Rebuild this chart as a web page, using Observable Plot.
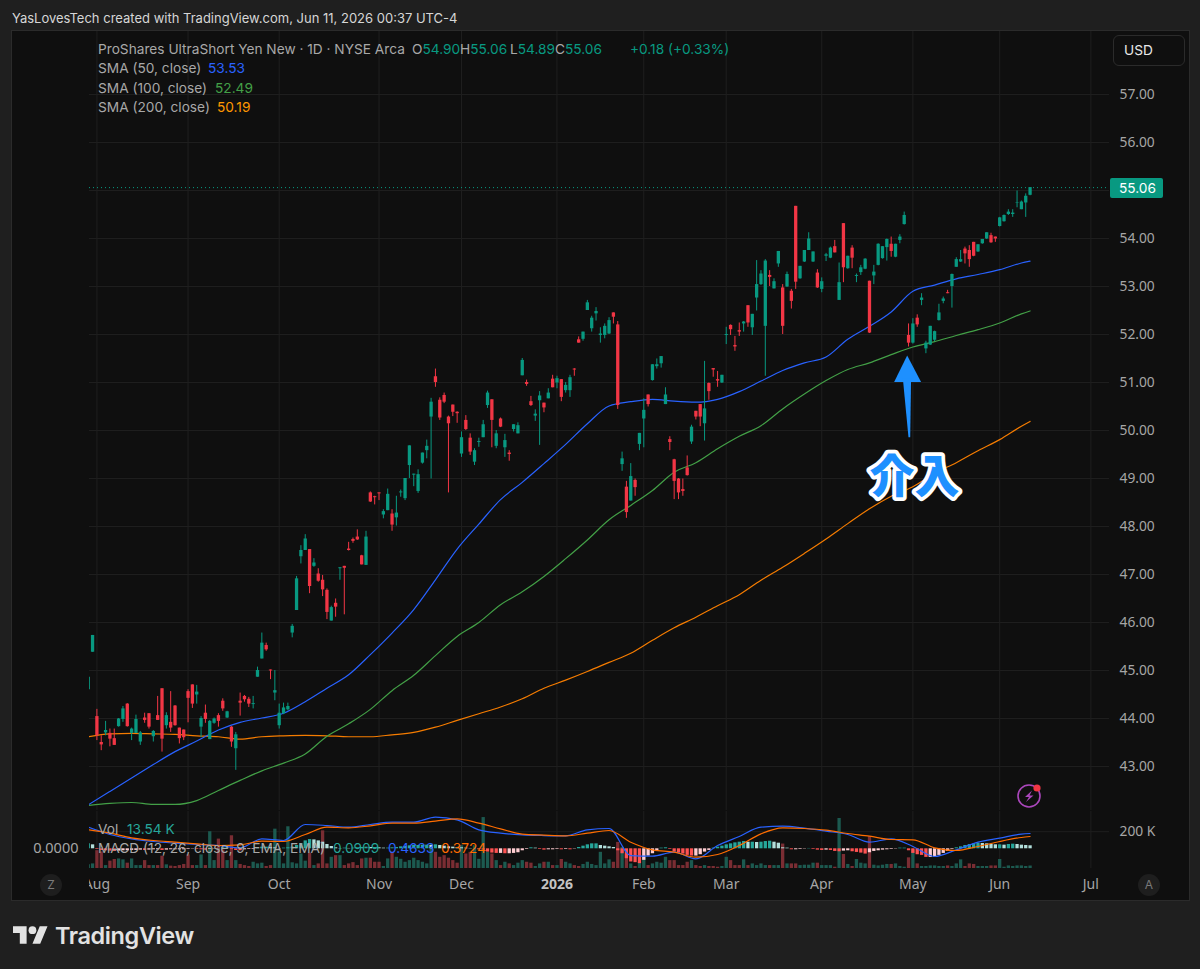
<!DOCTYPE html>
<html><head><meta charset="utf-8">
<script src="https://cdn.jsdelivr.net/npm/d3@7"></script>
<script src="https://cdn.jsdelivr.net/npm/@observablehq/plot@0.6"></script>
<style>
html,body{margin:0;padding:0;background:#1f1f1f;overflow:hidden}
#root{position:relative;width:1200px;height:969px;font-family:Inter,"Noto Sans",sans-serif;font-size:13.7px;overflow:hidden}
#panel{position:absolute;left:11px;top:30px;width:1177px;height:869px;background:#0f0f0f;border:1px solid #2b2b2b}
.t{position:absolute;white-space:nowrap;line-height:16px;color:#a8a8a8}
.layer{position:absolute;left:12px}
.layer svg{display:block;background:transparent!important;overflow:visible}
.b{position:absolute;border-radius:50%;width:22px;height:22px;background:#1e1e1e;color:#7a7a7a;text-align:center;line-height:22px;font-size:12px}
</style></head><body>
<div id="root"><div id="panel"></div></div>
<script>
// Bars run from firstBar (two sessions before Aug 1) to the last session
const firstBar = -2;
const open = [44.6,45.38,44.04,43.5,43.7,43.69,43.58,43.83,43.98,44.3,
43.69,43.69,43.51,44.01,44.1,43.62,44.06,44.62,43.85,43.92,
44.26,43.8,43.76,44.56,44.7,44.49,43.82,44.11,43.56,43.9,
44.06,44.36,44.01,43.82,43.37,44.36,44.46,44.4,44.29,44.86,
45.24,45.52,45.01,44.53,43.85,44.1,44.18,45.78,46.25,47.37,
47.5,47.52,47.17,47.01,46.88,46.67,46.03,46.4,47.12,47.17,
47.53,47.73,47.78,47.39,47.19,48.7,48.62,48.7,48.24,48.33,
48.26,48.18,48.7,48.58,49.27,49.07,48.73,49.32,49.58,50.28,
51.12,50.63,50.73,50.28,50.53,50.38,49.51,50.21,49.84,49.34,
49.75,49.85,50.52,50.64,49.67,50.24,49.64,49.53,50.02,49.93,
51.14,51.0,50.6,50.3,50.62,50.57,50.66,51.07,50.99,51.06,
50.83,50.83,51.28,51.89,51.9,52.5,52.12,52.43,51.98,51.98,
52.01,52.45,52.2,49.29,48.82,48.53,48.96,49.71,50.24,50.74,
51.04,51.33,51.39,50.54,49.81,49.39,48.99,48.77,49.22,49.76,
50.4,50.54,50.14,50.98,51.29,51.06,50.99,51.98,52.19,51.77,
52.08,52.22,52.6,52.14,52.76,53.04,52.17,53.23,52.95,53.47,
52.97,52.99,52.9,54.67,53.16,53.51,53.75,53.51,53.28,52.94,
53.63,53.59,53.83,52.71,54.31,53.37,53.8,53.21,53.29,53.36,
53.11,53.22,53.44,53.58,53.81,53.88,53.61,53.96,54.29,51.98,
51.82,52.34,52.71,51.7,51.78,51.88,52.29,52.69,52.87,53.0,
53.4,53.51,53.78,53.75,53.92,53.72,53.89,53.99,54.06,54.03,
54.25,54.35,54.5,54.5,54.74,54.6,54.74,54.9];
const high = [44.86,45.73,44.19,43.64,43.94,43.78,43.78,44.0,44.25,44.31,
43.8,44.07,43.73,44.11,44.1,43.75,44.46,44.62,44.12,44.56,
44.27,43.8,43.76,44.6,44.7,44.69,44.04,44.28,43.96,44.01,
44.1,44.41,44.15,43.83,43.71,44.53,44.48,44.44,44.46,45.07,
45.78,45.57,45.01,45.0,44.3,44.32,44.32,45.96,46.96,47.6,
47.83,47.52,47.33,47.12,46.98,46.7,46.34,46.49,47.14,47.17,
47.67,47.76,47.93,47.4,47.9,48.72,48.63,48.7,48.35,48.78,
48.35,48.63,48.76,49.0,49.68,49.09,49.18,49.53,49.8,50.67,
51.28,50.68,50.78,50.3,50.53,50.39,49.97,50.31,49.93,49.62,
49.84,50.21,50.82,50.64,50.0,50.26,49.92,49.58,50.12,50.16,
51.5,51.05,50.71,50.43,50.81,50.57,50.87,51.15,51.13,51.06,
51.0,51.15,51.29,51.95,52.05,52.71,52.38,52.56,52.14,52.22,
52.35,52.45,52.27,49.55,48.94,49.31,48.99,49.94,50.66,50.74,
51.37,51.49,51.54,50.89,49.87,49.4,49.0,48.99,49.47,50.11,
50.4,50.54,51.44,50.99,51.29,51.23,51.15,52.15,52.2,51.96,
52.24,52.27,52.6,52.42,53.54,53.33,53.56,53.33,53.16,53.73,
53.04,53.3,52.94,54.67,53.42,53.75,54.12,53.72,53.35,53.18,
53.69,53.82,53.96,53.49,54.31,53.63,53.85,53.26,53.44,53.58,
53.11,53.44,53.89,53.83,53.99,54.03,53.88,54.08,54.55,52.22,
52.33,52.41,52.85,51.86,52.17,52.07,52.63,52.78,52.92,53.26,
53.6,53.75,53.82,53.85,53.92,53.87,53.98,54.12,54.11,54.03,
54.44,54.49,54.6,54.6,54.99,54.78,54.93,55.06];
const low = [44.6,45.38,43.54,43.33,43.64,43.41,43.44,43.82,43.92,43.82,
43.54,43.69,43.44,43.9,43.78,43.51,43.96,43.3,43.78,43.71,
43.84,43.47,43.54,43.91,44.21,44.3,43.6,43.9,43.56,43.88,
43.82,44.15,44.0,43.4,42.92,44.05,44.34,44.23,44.2,44.86,
45.24,45.4,44.81,44.37,43.78,44.08,44.16,45.68,46.25,47.22,
47.5,46.6,47.15,46.84,46.54,46.06,46.03,46.11,46.88,46.16,
47.49,47.65,47.71,47.2,47.19,48.5,48.45,48.54,48.16,48.33,
47.9,48.01,48.61,48.54,49.0,48.83,48.69,49.3,49.41,48.99,
50.9,50.21,50.56,48.7,50.29,50.15,49.44,50.0,49.48,49.27,
49.65,49.85,50.46,49.64,49.62,50.06,49.44,49.36,49.97,49.93,
51.14,50.92,50.5,50.19,49.69,50.37,50.66,50.89,50.87,50.6,
50.78,50.69,51.13,51.82,51.86,52.5,52.05,52.28,51.82,51.91,
52.0,52.22,50.44,49.15,48.17,48.53,48.63,49.58,49.64,50.49,
51.03,51.28,51.3,50.54,49.58,48.56,48.56,48.63,49.05,49.71,
50.22,50.08,49.78,50.63,51.11,50.9,50.98,51.79,51.98,51.65,
51.96,52.05,52.15,51.98,52.49,53.02,51.13,53.0,52.95,53.4,
52.0,52.98,52.53,52.94,53.15,53.5,53.75,53.5,52.96,52.87,
53.52,53.58,53.7,52.71,53.08,53.36,53.37,53.08,53.23,53.35,
52.02,53.04,53.43,53.57,53.53,53.61,53.6,53.89,54.28,51.74,
51.8,52.15,52.6,51.6,51.77,51.85,52.28,52.64,52.85,52.55,
53.4,53.5,53.47,53.4,53.62,53.71,53.88,53.98,53.9,53.92,
54.24,54.34,54.48,54.44,54.64,54.6,54.44,54.89];
const close = [44.86,45.73,43.64,43.45,43.75,43.57,43.44,43.99,44.2,43.83,
43.78,43.98,43.7,43.96,43.82,43.73,43.96,43.57,44.06,43.8,
43.85,43.58,43.6,44.42,44.3,44.55,44.0,43.98,43.94,43.99,
43.94,44.2,44.14,43.51,43.66,44.32,44.39,44.3,44.31,45.0,
45.57,45.43,44.99,44.58,44.11,44.22,44.25,45.92,46.91,47.5,
47.74,46.75,47.24,46.86,46.68,46.21,46.31,46.32,47.14,47.13,
47.5,47.69,47.72,47.2,47.78,48.51,48.6,48.68,48.31,48.67,
48.03,48.28,48.72,49.0,49.68,49.09,49.08,49.53,49.67,50.59,
51.0,50.26,50.59,50.14,50.38,50.35,49.85,50.02,49.55,49.58,
49.77,50.12,50.78,50.21,49.93,50.07,49.79,49.5,50.12,50.1,
51.46,50.96,50.52,50.34,50.72,50.47,50.78,50.89,51.08,50.69,
50.94,51.1,51.26,51.82,52.05,52.66,52.34,52.48,52.01,52.17,
52.29,52.36,50.52,49.41,48.29,49.04,48.81,49.94,50.42,50.54,
51.37,51.37,51.54,50.74,49.75,48.94,48.7,48.73,49.06,50.07,
50.28,50.28,50.45,50.81,51.26,51.03,51.15,52.0,52.1,51.74,
52.05,52.26,52.24,52.42,53.04,53.26,53.53,53.19,53.1,53.73,
52.17,53.25,52.69,53.09,53.42,53.75,53.99,53.72,52.97,53.1,
53.66,53.8,53.7,53.08,53.39,53.63,53.59,53.23,53.39,53.57,
52.03,53.3,53.88,53.83,53.98,53.73,53.88,54.03,54.48,51.82,
52.22,52.2,52.76,51.82,52.17,52.06,52.45,52.74,52.85,53.25,
53.56,53.56,53.68,53.56,53.63,53.87,53.98,54.12,53.91,53.99,
54.43,54.48,54.55,54.53,54.75,54.76,54.88,55.06];
const volumeK = [20,25,97,90,16,40,49,52,47,29,
52,16,16,43,16,16,16,67,20,13,
11,16,22,74,16,16,74,16,200,43,
160,101,43,178,43,22,16,11,34,25,
29,11,16,214,88,25,227,31,25,79,
40,83,16,25,205,25,61,70,70,16,
25,32,16,52,56,56,34,34,11,52,
88,61,50,34,43,56,43,34,25,133,
88,61,70,56,43,29,124,79,88,124,
50,277,88,79,43,16,34,25,16,29,
43,34,29,11,25,34,34,16,16,49,
34,25,16,11,22,34,22,16,88,25,
47,34,142,115,79,25,11,34,70,16,
25,34,29,61,43,43,16,16,34,43,
16,11,16,11,11,7,11,61,43,16,
16,47,16,25,16,25,16,16,16,16,
133,25,25,25,16,18,18,29,29,16,
16,16,7,272,76,22,11,49,29,25,
173,18,14,18,22,22,25,11,7,58,
101,25,11,11,14,14,11,11,14,11,
25,47,11,25,22,11,11,11,14,14,
49,7,14,11,14,14,11,13.54];
const histogram = [.15,.12,-.02,-.05,-.06,-.07,-.08,-.07,-.06,-.06,
-.05,-.05,-.04,-.05,-.04,-.03,-.03,-.05,-.04,-.03,
-.03,-.03,-.03,-.02,-.01,-.02,-.03,-.04,-.02,-.01,
.01,.03,.03,-.02,-.05,-.06,-.03,-.02,-.02,.02,
.05,.05,.04,.03,.01,.02,.03,.05,.1,.16,
.24,.28,.27,.24,.2,.13,.07,.03,.01,.02,
.01,.02,.03,.04,.05,.04,.04,.03,.02,.02,
.03,.04,.06,.07,.09,.1,.1,.11,.11,.1,
.12,.1,.08,.06,.05,.04,.03,.02,.01,.01,
-.03,-.04,-.1,-.13,-.14,-.14,-.15,-.15,-.14,-.12,
-.06,-.02,.03,.02,-.02,-.04,-.03,-.03,-.02,-.03,
-.02,-.03,-.01,.04,.08,.12,.15,.15,.1,.08,
.06,.04,-.06,-.15,-.3,-.4,-.42,-.45,-.35,-.22,
-.15,-.08,.02,.03,-.02,-.1,-.13,-.16,-.2,-.22,
-.22,-.18,-.1,-.05,.02,.05,.08,.12,.15,.18,
.2,.22,.2,.2,.19,.2,.22,.23,.2,.17,
.03,.02,-.03,-.03,-.02,-.01,.01,-.02,-.04,-.05,
-.04,-.05,-.08,-.09,-.07,-.06,-.09,-.11,-.13,-.16,
-.12,-.08,-.06,-.04,-.03,-.02,-.01,.02,.02,-.06,
-.14,-.18,-.2,-.26,-.26,-.25,-.2,-.14,-.08,-.02,
.03,.06,.1,.13,.15,.17,.16,.15,.13,.12,
.12,.11,.13,.14,.13,.11,.1,.0909];

// Indicator lines, read every five sessions
const lineBars = [-2,3,8,13,18,23,28,33,38,43,48,53,58,63,68,73,78,83,88,93,98,103,108,113,118,123,128,133,138,143,148,153,158,163,168,173,178,183,188,193,198,203,208,213,215];
const sma50 = [42.2,42.48,42.76,43.04,43.31,43.53,43.76,43.92,44.01,44.11,44.35,44.63,44.91,45.33,45.78,46.27,46.89,47.53,48.05,48.56,48.92,49.31,49.71,50.14,50.51,50.6,50.65,50.61,50.59,50.65,50.81,51.03,51.25,51.41,51.53,51.9,52.17,52.47,52.9,53.03,53.16,53.25,53.35,53.49,53.53];
const sma100 = [42.19,42.23,42.25,42.21,42.21,42.29,42.5,42.71,42.91,43.07,43.26,43.63,43.89,44.19,44.58,44.9,45.31,45.71,46.0,46.37,46.64,46.96,47.33,47.72,48.14,48.44,48.75,49.13,49.33,49.62,49.88,50.1,50.45,50.76,51.04,51.27,51.41,51.58,51.74,51.85,51.98,52.1,52.24,52.43,52.49];
const sma200 = [43.62,43.68,43.69,43.68,43.67,43.64,43.62,43.57,43.62,43.64,43.65,43.64,43.62,43.62,43.66,43.71,43.82,43.96,44.1,44.24,44.41,44.63,44.8,44.98,45.17,45.36,45.63,45.89,46.11,46.35,46.58,46.88,47.15,47.44,47.74,48.06,48.37,48.63,48.83,49.11,49.33,49.58,49.81,50.09,50.19];
const macd = [.655,.433,.301,.221,.17,.13,.1,.029,.301,.251,.736,.705,.655,.736,.806,.806,.958,.877,.574,.473,.423,.402,.392,.574,.615,-.204,-.224,-.103,-.305,.099,.372,.655,.685,.626,.535,.434,.201,.302,.07,-.233,-.031,.201,.322,.444,.4633];
const signal = [.574,.473,.332,.251,.2,.15,.1,.12,.231,.221,.433,.655,.635,.695,.776,.776,.837,.907,.776,.604,.443,.413,.392,.473,.554,.2,-.032,-.103,-.254,-.173,.099,.453,.635,.615,.565,.464,.383,.282,.272,.03,-.051,.07,.221,.343,.3724];

const priceTicks = [43,44,45,46,47,48,49,50,51,52,53,54,55,56,57];
const monthBars = [0,21,42,65,84,106,126,145,167,188,208,229];
const monthLabels = ["Aug","Sep","Oct","Nov","Dec","2026","Feb","Mar","Apr","May","Jun","Jul"];
const volumeTicks = [200];
const lastPrice = 55.06;

// Annotation geometry expressed in chart units (bar number, price)
const arrowHead = [{p:51.55,a:186.8,b:186.8},{p:51.0,a:183.8,b:190.0}];
const arrowShaft = [{p:51.08,a:185.8,b:187.7},{p:49.85,a:187.1,b:187.5}];
const noteLabel = [{x:188.4,y:49.0,text:"介入"}];

const UP="#089981", DOWN="#F23645", GRID="#1f1f1f", AXIS="#a6a6a6", CURVE="monotone-x";
const bars = open.map((o,i)=>({i:i+firstBar,o,h:high[i],l:low[i],c:close[i],v:volumeK[i],m:histogram[i],pm:i?histogram[i-1]:histogram[i]}));
const lineRows = lineBars.map((x,i)=>({x,s50:sma50[i],s100:sma100[i],s200:sma200[i],macd:macd[i],sig:signal[i]}));
const xDomain=[-1.705,233.3];
const W=1177,ML=77,MR=80;
const root=document.getElementById("root");
function place(svg,top,z){const d=document.createElement("div");d.className="layer";d.style.top=top+"px";d.style.zIndex=z;d.appendChild(svg);root.appendChild(d);}
const col=d=>d.c>=d.o?UP:DOWN;

// Price pane (the last-price tag replaces the 55.00 label, as in the reference)
place(Plot.plot({
  width:W,height:779,marginLeft:ML,marginRight:MR,marginTop:0,marginBottom:0,
  style:{background:"transparent"},
  x:{domain:xDomain,axis:null},
  y:{domain:[42.0833,58.3125],axis:null},
  marks:[
    Plot.gridY(priceTicks,{stroke:GRID,strokeOpacity:1}),
    Plot.gridX(monthBars,{stroke:GRID,strokeOpacity:1}),
    Plot.axisY(priceTicks.filter(d=>d!==55),{anchor:"right",tickSize:0,tickPadding:10,tickFormat:d=>d.toFixed(2),fontSize:13.8,fill:AXIS,label:null,textAnchor:"start"}),
    Plot.ruleY([lastPrice],{stroke:UP,strokeDasharray:"1 3"}),
    Plot.line(lineRows,{x:"x",y:"s200",stroke:"#F57C00",strokeWidth:1.2,curve:CURVE,clip:true}),
    Plot.line(lineRows,{x:"x",y:"s100",stroke:"#43A047",strokeWidth:1.2,curve:CURVE,clip:true}),
    Plot.line(lineRows,{x:"x",y:"s50",stroke:"#2962FF",strokeWidth:1.2,curve:CURVE,clip:true}),
    Plot.ruleX(bars,{x:"i",y1:"l",y2:"h",stroke:col,strokeWidth:1,clip:true}),
    Plot.ruleX(bars,{x:"i",y1:"o",y2:"c",stroke:col,strokeWidth:3.3,clip:true}),
    Plot.areaX(arrowHead,{y:"p",x1:"a",x2:"b",fill:"#1E90FF"}),
    Plot.areaX(arrowShaft,{y:"p",x1:"a",x2:"b",fill:"#1E90FF"}),
    Plot.text(noteLabel,{x:"x",y:"y",text:"text",fontSize:45,fontWeight:900,fontFamily:'"Noto Sans CJK JP"',fill:"#1E90FF",stroke:"#fff",strokeWidth:7.5,strokeLinejoin:"round"})
  ]
}),31,2);

// Volume layer of the lower pane, with the time axis
const yearIdx=monthLabels.indexOf("2026");
place(Plot.plot({
  width:W,height:89,marginLeft:ML,marginRight:MR,marginTop:0,marginBottom:32,
  style:{background:"transparent"},
  x:{domain:xDomain,axis:null},
  y:{domain:[0,310],axis:null},
  marks:[
    Plot.gridY(volumeTicks,{stroke:GRID,strokeOpacity:1}),
    Plot.gridX(monthBars,{stroke:GRID,strokeOpacity:1}),
    Plot.axisY(volumeTicks,{anchor:"right",tickSize:0,tickPadding:10,tickFormat:d=>d+" K",fontSize:13.8,fill:AXIS,label:null,textAnchor:"start"}),
    Plot.ruleX(bars,{x:"i",y1:0,y2:"v",stroke:d=>d.c>=d.o?"#1c5a50":"#7a2d33",strokeWidth:3.3,clip:true}),
    Plot.axisX(monthBars.filter((d,i)=>i!==yearIdx),{anchor:"bottom",tickSize:0,tickPadding:11,fontSize:14,fill:AXIS,label:null,tickFormat:d=>monthLabels[monthBars.indexOf(d)]}),
    Plot.axisX([monthBars[yearIdx]],{anchor:"bottom",tickSize:0,tickPadding:11,fontSize:14,fontWeight:700,fill:"#c2c2c2",label:null,tickFormat:()=>monthLabels[yearIdx]})
  ]
}),811,3);

// MACD layer of the lower pane
const histColor=d=>d.m>=0?(d.m>=d.pm?"#26A69A":"#B2DFDB"):(d.m>=d.pm?"#FFCDD2":"#FF5252");
place(Plot.plot({
  width:W,height:89,marginLeft:ML,marginRight:MR,marginTop:0,marginBottom:32,
  style:{background:"transparent"},
  x:{domain:xDomain,axis:null},
  y:{domain:[-.597,1.13],axis:null},
  marks:[
    Plot.axisY([0],{anchor:"left",tickSize:0,tickPadding:11,tickFormat:d=>d.toFixed(4),fontSize:14.5,fill:AXIS,label:null}),
    Plot.ruleX(bars,{x:"i",y1:0,y2:"m",stroke:histColor,strokeWidth:3.3,clip:true}),
    Plot.line(lineRows,{x:"x",y:"macd",stroke:"#2962FF",strokeWidth:1.2,curve:CURVE,clip:true}),
    Plot.line(lineRows,{x:"x",y:"sig",stroke:"#FF6D00",strokeWidth:1.2,curve:CURVE,clip:true})
  ]
}),811,4);

function txt(x,y,html,color,extra){const d=document.createElement("div");d.className="t";d.style.cssText=`left:${x}px;top:${y-8}px;z-index:6;`+(color?`color:${color};`:"")+(extra||"");d.innerHTML=html;root.appendChild(d);return d;}
txt(12,18,"YasLovesTech created with TradingView.com, Jun 11, 2026 00:37 UTC-4","#d6d6d6","font-size:13px;");
txt(98,49,'ProShares UltraShort Yen New · 1D · NYSE Arca');
const g=UP;
txt(412,49,`O<span style="color:${g}">54.90</span>`);
txt(460,49,`H<span style="color:${g}">55.06</span>`,null,"");
txt(510,49,`L<span style="color:${g}">54.89</span>`);
txt(555,49,`C<span style="color:${g}">55.06</span>`);
txt(630,49,"+0.18 (+0.33%)",g);
txt(98,68,"SMA (50, close)");txt(208,68,"53.53","#2962FF");
txt(98,88,"SMA (100, close)");txt(215,88,"52.49","#43A047");
txt(98,107,"SMA (200, close)");txt(217,107,"50.19","#FF9800");
txt(98,829,"Vol");txt(127,829,"13.54 K","#26A69A");
txt(98,848,"MACD (12, 26, close, 9, EMA, EMA)");
txt(333,848,"0.0909","#26A69A");txt(388,848,"0.4633","#2962FF");txt(441,848,"0.3724","#FF6D00");

// last-price tag and currency button
txt(1110,188,"55.06","#fff",`background:${UP};width:44px;padding-left:9px;height:20px;line-height:20px;margin-top:-2px;border-radius:2px;`);
txt(1113,50,"USD","#e8e8e8","width:60px;padding-left:10px;height:29px;line-height:29px;margin-top:-7px;border:1px solid #2b2b2b;border-radius:6px;");
// clip the first month label at the pane edge
const cover=document.createElement("div");cover.style.cssText="position:absolute;left:60px;top:875px;width:28.5px;height:20px;background:#0f0f0f;z-index:5";root.appendChild(cover);
for(const [x,l] of [[40,"Z"],[1138,"A"]]){const b=document.createElement("div");b.className="b";b.style.left=x+"px";b.style.top="874px";b.style.zIndex=6;b.textContent=l;root.appendChild(b);}

const ns=document.createElement("div");ns.style.cssText="position:absolute;left:1014px;top:781px;z-index:6;width:30px;height:30px";
ns.innerHTML='<svg width="30" height="30" viewBox="0 0 30 30"><circle cx="15" cy="15" r="11" fill="none" stroke="#AB47BC" stroke-width="1.6"/><path d="M18 9.5 L11 16 H15 L12 21 L19.5 14.5 H15.5 Z" fill="#AB47BC"/><circle cx="23" cy="7" r="3.6" fill="#F23645"/></svg>';
root.appendChild(ns);
const logo=document.createElement("div");logo.style.cssText="position:absolute;left:13px;top:925px;z-index:6;display:flex;align-items:center;height:20px";
logo.innerHTML='<svg width="35" height="18" viewBox="0 4 36 18" style="display:block"><path fill="#e2e2e2" d="M14 22H7V11H0V4h14v18zM28 22h-8l7.5-18h8L28 22z"/><circle fill="#e2e2e2" cx="20" cy="8" r="4"/></svg><span style="margin-left:7px;font:600 23.5px Inter,sans-serif;color:#e2e2e2;letter-spacing:-.4px">TradingView</span>';
root.appendChild(logo);
</script></body></html>
